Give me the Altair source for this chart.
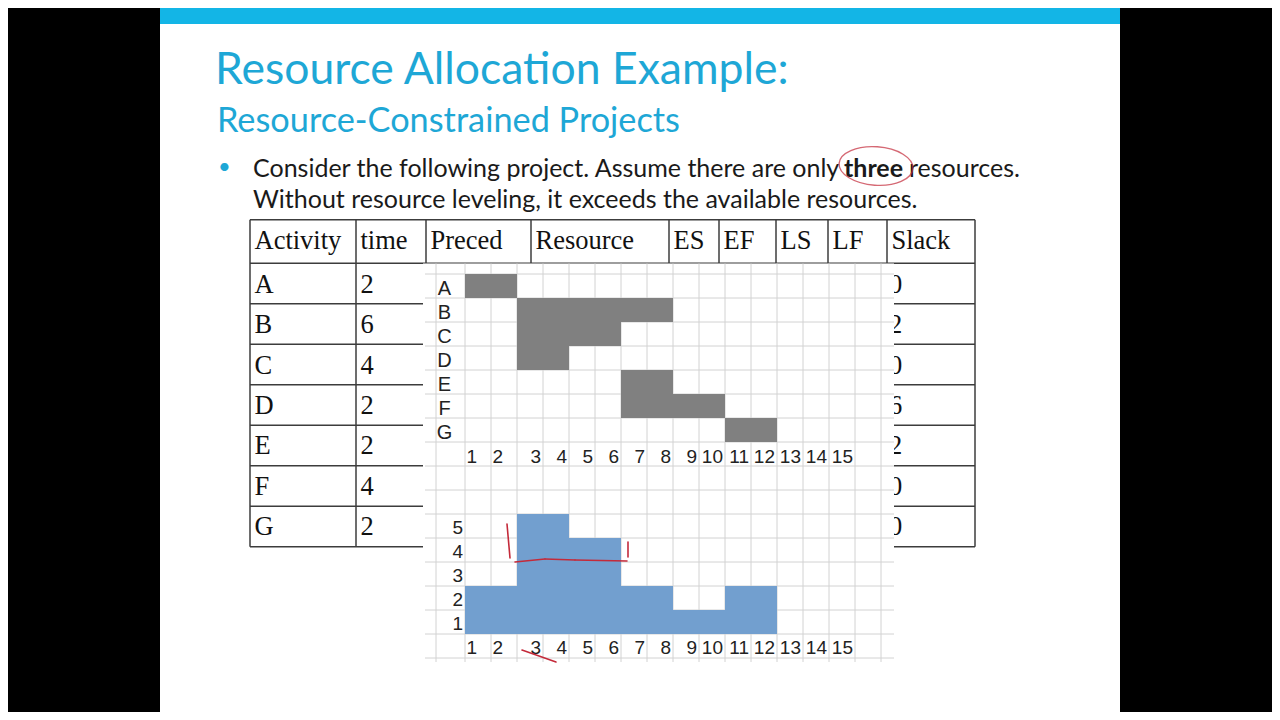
import altair as alt
import pandas as pd

# ---------------- data ----------------
activities = ["A", "B", "C", "D", "E", "F", "G"]
durations = [2, 6, 4, 2, 2, 4, 2]
start_days = [1, 3, 3, 3, 7, 7, 11]
slack = [0, 2, 0, 6, 2, 0, 0]
header_cols = ["Activity", "time", "Preced", "Resource", "ES", "EF", "LS", "LF", "Slack"]
days = list(range(1, 16))
resource_use = [2, 2, 5, 5, 4, 4, 2, 2, 1, 1, 2, 2, 0, 0, 0]
levels = [1, 2, 3, 4, 5]

title_text = "Resource Allocation Example:"
subtitle_text = "Resource-Constrained Projects"
bullet_1a = "Consider the following project. Assume there are only"
bullet_1b = "three"
bullet_1c = "resources."
bullet_2 = "Without resource leveling, it exceeds the available resources."

# ---------------- layout helpers ----------------
OX, OY = 8, 8
W, H = 1264, 704


def px(X):
    return X - OX


def py(Y):
    return Y - OY


one = pd.DataFrame({"k": [0]})

TEAL = "#1ea7d6"
BAR_BLUE = "#13b5e6"
GRID = "#d2d2d2"
LINE = "#3c3c3c"
RED = "#c42a3a"
SERIF = "Liberation Serif"
SANS = "Liberation Sans"


def rect(x1, x2, y1, y2, color):
    return alt.Chart(one).mark_rect(color=color).encode(
        x=alt.value(px(x1)), x2=alt.value(px(x2)),
        y=alt.value(py(y1)), y2=alt.value(py(y2)))


def label(s, x, y, size, font, color, weight="normal", align="left"):
    return alt.Chart(one).mark_text(
        text=s, font=font, fontSize=size, color=color, fontWeight=weight,
        align=align, baseline="alphabetic").encode(
        x=alt.value(px(x)), y=alt.value(py(y)))


def seg(x1, y1, x2, y2, color=RED, width=1.6):
    return alt.Chart(one).mark_rule(color=color, strokeWidth=width,
                                    strokeCap="round").encode(
        x=alt.value(px(x1)), x2=alt.value(px(x2)),
        y=alt.value(py(y1)), y2=alt.value(py(y2)))


layers = []

# slide background and top bar
layers.append(rect(160, 1120, 0, 720, "white"))
layers.append(rect(160, 1120, 0, 24, BAR_BLUE))

# titles and bullet
layers.append(label(title_text, 215, 83.5, 44.5, "Lato", TEAL))
layers.append(label(subtitle_text, 217, 132, 34.3, "Lato", TEAL))
layers.append(label("\u2022", 218, 174, 22, "Lato", TEAL))
layers.append(label(bullet_1a, 253, 176.5, 25, "Lato", "#1a1a1a"))
layers.append(label(bullet_1b, 844, 176.5, 25, "Lato", "#1a1a1a", weight="bold"))
layers.append(label(bullet_1c, 909, 176.5, 25, "Lato", "#1a1a1a"))
layers.append(label(bullet_2, 253, 207.5, 25, "Lato", "#1a1a1a"))

# ---------------- table ----------------
TOP, HEAD_BOT, BOT = 219.7, 263.3, 546.7
col_edges = [250, 356, 426, 531, 669, 719, 776, 828, 887, 975]
table_y = alt.Scale(domain=[0, len(activities)], range=[py(HEAD_BOT), py(BOT)])

header_df = pd.DataFrame({"name": header_cols,
                          "x": [px(e + 4.5) for e in col_edges[:-1]]})
layers.append(alt.Chart(header_df).mark_text(
    font=SERIF, fontSize=26.5, color="#111", align="left", baseline="alphabetic").encode(
    x=alt.X("x:Q", scale=None), y=alt.value(py(248.5)), text="name:N"))

edges_df = pd.DataFrame({"e": [px(e) for e in col_edges]})
layers.append(alt.Chart(edges_df).mark_rule(color=LINE, strokeWidth=1.5).encode(
    x=alt.X("e:Q", scale=None), y=alt.value(py(TOP)), y2=alt.value(py(BOT))))
layers.append(alt.Chart(one).mark_rule(color=LINE, strokeWidth=1.5).encode(
    x=alt.value(px(250)), x2=alt.value(px(975)), y=alt.value(py(TOP))))

bounds_df = pd.DataFrame({"b": list(range(len(activities) + 1))})
layers.append(alt.Chart(bounds_df).mark_rule(color=LINE, strokeWidth=1.5).encode(
    x=alt.value(px(250)), x2=alt.value(px(975)),
    y=alt.Y("b:Q", scale=table_y, axis=None)))

table_df = pd.DataFrame({"idx": list(range(len(activities))),
                         "act": activities,
                         "time": [str(d) for d in durations],
                         "slack": [str(s) for s in slack]})
base_t = alt.Chart(table_df).transform_calculate(mid="datum.idx + 0.5")
for field, xpos in [("act", 254.5), ("time", 360.5), ("slack", 889)]:
    layers.append(base_t.mark_text(
        font=SERIF, fontSize=26.5, color="#111", align="left",
        baseline="alphabetic", dy=9).encode(
        x=alt.value(px(xpos)),
        y=alt.Y("mid:Q", scale=table_y, axis=None),
        text=f"{field}:N"))

# ---------------- chart image (gantt + histogram) ----------------
IMG_L, IMG_R, IMG_T, IMG_B = 423, 894, 263.5, 662
layers.append(rect(IMG_L, IMG_R, IMG_T, IMG_B, "white"))

xs = alt.Scale(domain=[0, 15], range=[px(465), px(855)])
rows = alt.Scale(domain=[0, 16], range=[py(274), py(658)])

vgrid = pd.DataFrame({"d": list(range(17))})
layers.append(alt.Chart(vgrid).mark_rule(color=GRID, strokeWidth=1).encode(
    x=alt.X("d:Q", scale=xs, axis=None),
    y=alt.value(py(IMG_T)), y2=alt.value(py(IMG_B))))
layers.append(alt.Chart(one).mark_rule(color=GRID, strokeWidth=1).encode(
    x=alt.value(px(436)), y=alt.value(py(IMG_T)), y2=alt.value(py(IMG_B))))
hgrid = pd.DataFrame({"r": list(range(17))})
layers.append(alt.Chart(hgrid).mark_rule(color=GRID, strokeWidth=1).encode(
    y=alt.Y("r:Q", scale=rows, axis=None),
    x=alt.value(px(IMG_L + 2)), x2=alt.value(px(IMG_R))))

# Gantt bars
act_scale = alt.Scale(domain=activities, range=[py(274), py(442)],
                      paddingInner=0, paddingOuter=0)
gantt_df = pd.DataFrame({"act": activities,
                         "s": [s - 1 for s in start_days],
                         "e": [s - 1 + d for s, d in zip(start_days, durations)]})
layers.append(alt.Chart(gantt_df).mark_rect(color="#808080").encode(
    x=alt.X("s:Q", scale=xs, axis=None), x2="e:Q",
    y=alt.Y("act:N", scale=act_scale, axis=None)))
layers.append(alt.Chart(gantt_df).mark_text(
    font=SANS, fontSize=20, color="#222", align="center", baseline="middle", dy=2.5).encode(
    x=alt.value(px(444.5)), y=alt.Y("act:N", scale=act_scale, axis=None), text="act:N"))

# Resource histogram
hist_y = alt.Scale(domain=[0, 5], range=[py(634), py(514)])
hist_df = pd.DataFrame({"day": days, "use": resource_use})
layers.append(alt.Chart(hist_df).transform_calculate(d0="datum.day - 1").mark_rect(
    color="#729fcf").encode(
    x=alt.X("d0:Q", scale=xs, axis=None), x2="day:Q",
    y=alt.Y("use:Q", scale=hist_y, axis=None), y2=alt.datum(0)))

lv_df = pd.DataFrame({"lv": levels})
layers.append(alt.Chart(lv_df).transform_calculate(lo="datum.lv - 1").mark_text(
    font=SANS, fontSize=19, color="#222", align="right", baseline="alphabetic", dy=-4).encode(
    x=alt.value(px(463)), y=alt.Y("lo:Q", scale=hist_y, axis=None), text="lv:N"))

# day labels under both panels
day_df = pd.DataFrame({"day": days})
for ybase in (462.5, 653.5):
    for cond, shift in [("datum.day <= 2", -14), ("datum.day > 2", -2)]:
        layers.append(alt.Chart(day_df).transform_filter(cond).mark_text(
            font=SANS, fontSize=19, color="#222", align="right",
            baseline="alphabetic", dx=shift).encode(
            x=alt.X("day:Q", scale=xs, axis=None), y=alt.value(py(ybase)),
            text="day:N"))

# ---------------- hand-drawn red annotations ----------------
ellipse = "M -1 0 A 1 0.52 0 1 1 1 0 A 1 0.52 0 1 1 -1 0 Z"
layers.append(alt.Chart(one).mark_point(
    shape=ellipse, filled=False, color=RED, strokeWidth=1.4, angle=4).encode(
    x=alt.value(px(876)), y=alt.value(py(166)), size=alt.value(74 * 74)))
layers.append(seg(515, 562, 545, 559))
layers.append(seg(545, 559, 575, 560))
layers.append(seg(575, 560, 627, 561))
layers.append(seg(507, 524, 510, 558))
layers.append(seg(628, 542, 628, 557))
layers.append(seg(522, 650, 556, 662))

chart = alt.layer(*layers).resolve_scale(
    x="independent", y="independent").properties(
    width=W, height=H, background="black", padding=0,
    autosize=alt.AutoSizeParams(type="none")
).configure_view(stroke=None)

chart.save("out.html", embed_options={"renderer": "svg", "actions": False})
